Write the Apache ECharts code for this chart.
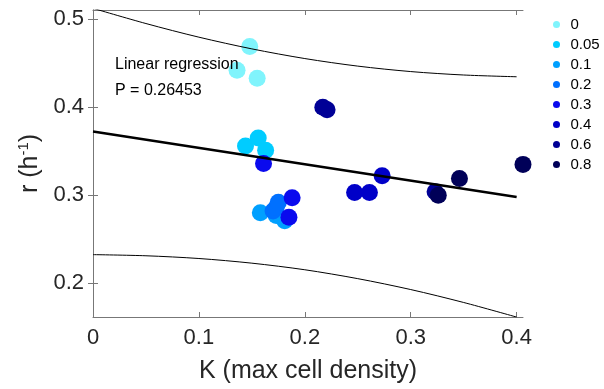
<!DOCTYPE html>
<html>
<head>
<meta charset="UTF-8">
<title>r vs K</title>
<script src="https://cdn.jsdelivr.net/npm/echarts@6/dist/echarts.min.js"></script>
<style>
    html, body { margin: 0; padding: 0; background: #fff; }
    #chart { width: 604px; height: 389px; }
</style>
</head>
<body>
<div id="chart"></div>
<script>
    // groups shown in the legend
    const groupNames = ['0', '0.05', '0.1', '0.2', '0.3', '0.4', '0.6', '0.8'];
    const groupColors = ['#80f4fc', '#00ccff', '#00a0ff', '#0070ff', '#0a0aee', '#0000c8', '#000096', '#000058'];

    // K (max cell density) and r per group
    const kValues = [
        [0.136, 0.148, 0.155],
        [0.144, 0.156, 0.163],
        [0.158, 0.173, 0.181],
        [0.170, 0.173, 0.175],
        [0.161, 0.188, 0.185],
        [0.247, 0.261, 0.273],
        [0.217, 0.221, 0.323],
        [0.326, 0.346, 0.406]
    ];
    const rValues = [
        [0.442, 0.469, 0.433],
        [0.356, 0.365, 0.351],
        [0.280, 0.277, 0.271],
        [0.282, 0.286, 0.292],
        [0.336, 0.297, 0.275],
        [0.303, 0.303, 0.322],
        [0.400, 0.397, 0.304],
        [0.300, 0.319, 0.335]
    ];

    // regression line and its band
    const fitK = [0, 0.4];
    const fitR = [0.3724, 0.298];
    const bandK = [0, 0.05, 0.1, 0.15, 0.2, 0.25, 0.3, 0.35, 0.4];
    const bandUpper = [0.5124, 0.4951, 0.4796, 0.4663, 0.4553, 0.4467, 0.4405, 0.4366, 0.4346];
    const bandLower = [0.2324, 0.2311, 0.2280, 0.2227, 0.2152, 0.2051, 0.1927, 0.1780, 0.1614];

    const xTicks = [0, 0.1, 0.2, 0.3, 0.4];
    const yTicks = [0.2, 0.3, 0.4, 0.5];

    const xMin = 0, xMax = 0.406;
    const yMin = 0.1615, yMax = 0.5105;

    const zip = (a, b) => a.map((v, i) => [v, b[i]]);

    const font = 'Liberation Sans, Arial, sans-serif';
    const axisColor = '#777';

    const scatterSeries = groupNames.map((name, i) => ({
        name: name,
        type: 'scatter',
        symbolSize: 17,
        itemStyle: { color: groupColors[i], opacity: 1 },
        data: zip(kValues[i], rValues[i]),
        z: 2
    }));

    const lineBase = {
        type: 'line',
        symbol: 'none',
        silent: true,
        z: 5
    };

    const chart = echarts.init(document.getElementById('chart'));
    chart.setOption({
        animation: false,
        textStyle: { fontFamily: font },
        grid: { left: 93, right: 81, top: 10, bottom: 71 },
        title: {
            text: 'Linear regression\nP = 0.26453',
            left: 115,
            top: 52,
            padding: 0,
            textStyle: { fontFamily: font, fontSize: 16, fontWeight: 'normal', color: '#000', lineHeight: 26 }
        },
        legend: {
            data: groupNames,
            orient: 'vertical',
            left: 548,
            top: 12,
            icon: 'circle',
            itemWidth: 18,
            itemHeight: 7,
            itemGap: 5,
            textStyle: { fontFamily: font, fontSize: 15, color: '#000', lineHeight: 15 }
        },
        xAxis: [{
            type: 'value',
            min: xMin,
            max: xMax,
            name: 'K (max cell density)',
            nameLocation: 'middle',
            nameGap: 42,
            nameTextStyle: { fontFamily: font, fontSize: 25, color: '#262626' },
            axisLine: { show: true, lineStyle: { color: axisColor } },
            axisTick: { show: true, inside: true, length: 5, customValues: xTicks, lineStyle: { color: axisColor } },
            axisLabel: { customValues: xTicks, fontSize: 22, color: '#262626', margin: 10 },
            splitLine: { show: false }
        }, {
            type: 'value',
            position: 'top',
            min: xMin,
            max: xMax,
            axisLine: { show: true, lineStyle: { color: axisColor } },
            axisTick: { show: true, inside: true, length: 5, customValues: xTicks, lineStyle: { color: axisColor } },
            axisLabel: { show: false },
            splitLine: { show: false }
        }],
        yAxis: [{
            type: 'value',
            min: yMin,
            max: yMax,
            name: '{n|r (h}{s|-1}{n|)}',
            nameLocation: 'middle',
            nameRotate: 90,
            nameGap: 42,
            nameTextStyle: {
                rich: {
                    n: { fontFamily: font, fontSize: 25, color: '#262626', lineHeight: 28 },
                    s: { fontFamily: font, fontSize: 15, color: '#262626', verticalAlign: 'top', lineHeight: 28 }
                }
            },
            axisLine: { show: true, lineStyle: { color: axisColor } },
            axisTick: { show: true, inside: true, length: 5, customValues: yTicks, lineStyle: { color: axisColor } },
            axisLabel: { customValues: yTicks, fontSize: 22, color: '#262626', margin: 9 },
            splitLine: { show: false }
        }, {
            type: 'value',
            position: 'right',
            min: yMin,
            max: yMax,
            axisLine: { show: true, lineStyle: { color: axisColor } },
            axisTick: { show: true, inside: true, length: 5, customValues: yTicks, lineStyle: { color: axisColor } },
            axisLabel: { show: false },
            splitLine: { show: false }
        }],
        series: scatterSeries.concat([
            Object.assign({}, lineBase, {
                name: 'fit',
                data: zip(fitK, fitR),
                lineStyle: { color: '#000', width: 2.5 }
            }),
            Object.assign({}, lineBase, {
                name: 'upper',
                smooth: 0.3,
                data: zip(bandK, bandUpper),
                lineStyle: { color: '#000', width: 1 }
            }),
            Object.assign({}, lineBase, {
                name: 'lower',
                smooth: 0.3,
                data: zip(bandK, bandLower),
                lineStyle: { color: '#000', width: 1 }
            })
        ])
    });
</script>
</body>
</html>
